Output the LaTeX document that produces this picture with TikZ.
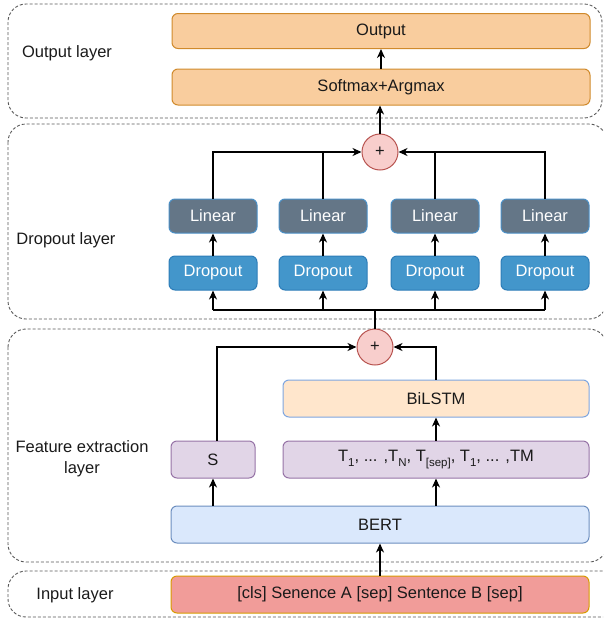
\documentclass[tikz,border=0pt]{standalone}
\usepackage{fontspec}
\setmainfont{Liberation Sans}
\usetikzlibrary{arrows.meta}
\definecolor{txt}{HTML}{1A1A1A}
\definecolor{orfill}{HTML}{F9CD9E}
\definecolor{ordraw}{HTML}{D08A2C}
\definecolor{linfill}{HTML}{647687}
\definecolor{lindraw}{HTML}{4A8FC6}
\definecolor{dropfill}{HTML}{4396CB}
\definecolor{dropdraw}{HTML}{2D7DB8}
\definecolor{plusfill}{HTML}{F8CECC}
\definecolor{plusdraw}{HTML}{B85450}
\definecolor{bifill}{HTML}{FFE6CC}
\definecolor{bidraw}{HTML}{7EA6E0}
\definecolor{pufill}{HTML}{E1D5E7}
\definecolor{pudraw}{HTML}{9673A6}
\definecolor{befill}{HTML}{DAE8FC}
\definecolor{bedraw}{HTML}{6C8EBF}
\definecolor{infill}{HTML}{F19C99}
\definecolor{indraw}{HTML}{D79B00}
\newcommand{\lowsub}[1]{\raisebox{-0.5ex}{\fontsize{11.5}{11.5}\selectfont #1}}
\begin{document}
\begin{tikzpicture}[x=1pt,y=-1pt,
  font=\fontsize{16.5}{21}\selectfont,
  layerbox/.style={draw=black!65, line width=0.9pt, dash pattern=on 3pt off 2pt, rounded corners=18pt},
  box/.style={rectangle, rounded corners=6pt, line width=1pt, inner sep=0pt, text=txt},
  obox/.style={box, draw=ordraw, fill=orfill},
  linbox/.style={box, draw=lindraw, fill=linfill, text=white, minimum width=88pt, minimum height=34pt},
  dropbox/.style={box, draw=dropdraw, fill=dropfill, text=white, minimum width=88pt, minimum height=34pt},
  bibox/.style={box, draw=bidraw, fill=bifill},
  pubox/.style={box, draw=pudraw, fill=pufill},
  bebox/.style={box, draw=bedraw, fill=befill},
  inbox/.style={box, draw=indraw, fill=infill},
  plus/.style={circle, draw=plusdraw, fill=plusfill, line width=1pt, minimum size=36pt, inner sep=0pt, text=txt},
  lbl/.style={text=txt, align=center},
  arr/.style={line width=1.5pt, -{Stealth[length=9pt,width=8pt,inset=2.8pt]}},
  ln/.style={line width=1.5pt}]
\useasboundingbox (0,0) rectangle (603,619);
\clip (0,0) rectangle (603,619);
% layers
\draw[layerbox] (8,4) rectangle (602,118);
\draw[layerbox] (8,124) rectangle (607,319);
\draw[layerbox] (8,329) rectangle (607,562);
\draw[layerbox] (8,571) rectangle (640,617);
% labels
\node[lbl] (lo) at (67,53) {Output layer};
\node[lbl] (ld) at (66,240) {Dropout layer};
\node[lbl] (lf) at (82,459) {Feature extraction\\layer};
\node[lbl] (li) at (75,595) {Input layer};
% output layer
\node[obox, minimum width=418pt, minimum height=35pt] (out) at (381,31) {Output};
\node[obox, minimum width=418pt, minimum height=36pt] (soft) at (381,87) {Softmax+Argmax};
% dropout layer
\node[plus] (plusA) at (380,152) {+};
\foreach \i/\x in {1/213,2/323,3/435,4/545}{
  \node[linbox] (lin\i) at (\x,216) {Linear};
  \node[dropbox] (drop\i) at (\x,273) {Dropout};
}
% feature extraction layer
\node[plus] (plusB) at (375,347) {+};
\node[bibox, minimum width=306pt, minimum height=37pt] (bi) at (436,398.5) {BiLSTM};
\node[pubox, minimum width=84pt, minimum height=37pt] (S) at (213,459.5) {S};
\node[pubox, minimum width=306pt, minimum height=37pt] (T) at (436,459.5) {T\lowsub{1}, ... ,T\lowsub{N}, T\lowsub{[sep]}, T\lowsub{1}, ... ,TM};
\node[bebox, minimum width=418pt, minimum height=37pt] (bert) at (380,524.5) {BERT};
% input layer
\node[inbox, minimum width=418pt, minimum height=37pt] (inp) at (380,594.5) {[cls] Senence A [sep] Sentence B [sep]};
% connectors
\draw[arr] (inp.north) -- (bert.south);
\draw[arr] (S.south |- bert.north) -- (S.south);
\draw[arr] (T.south |- bert.north) -- (T.south);
\draw[arr] (T.north) -- (bi.south);
\draw[arr] ([xshift=4pt]S.north) |- (plusB.west);
\draw[arr] (bi.north) |- (plusB.east);
\coordinate (bus) at (375,310);
\draw[ln] (plusB.north) -- (bus);
\draw[ln] (drop1.south |- bus) -- (drop4.south |- bus);
\foreach \i in {1,2,3,4}{
  \draw[arr] (drop\i.south |- bus) -- (drop\i.south);
  \draw[arr] (drop\i.north) -- (lin\i.south);
}
\draw[arr] (lin1.north) |- (plusA.west);
\draw[ln] (lin2.north) -- (lin2.north |- plusA.west);
\draw[arr] (lin4.north) |- (plusA.east);
\draw[ln] (lin3.north) -- (lin3.north |- plusA.east);
\draw[arr] (plusA.north) -- (plusA.north |- soft.south);
\draw[arr] (soft.north) -- (out.south);
\end{tikzpicture}
\end{document}
